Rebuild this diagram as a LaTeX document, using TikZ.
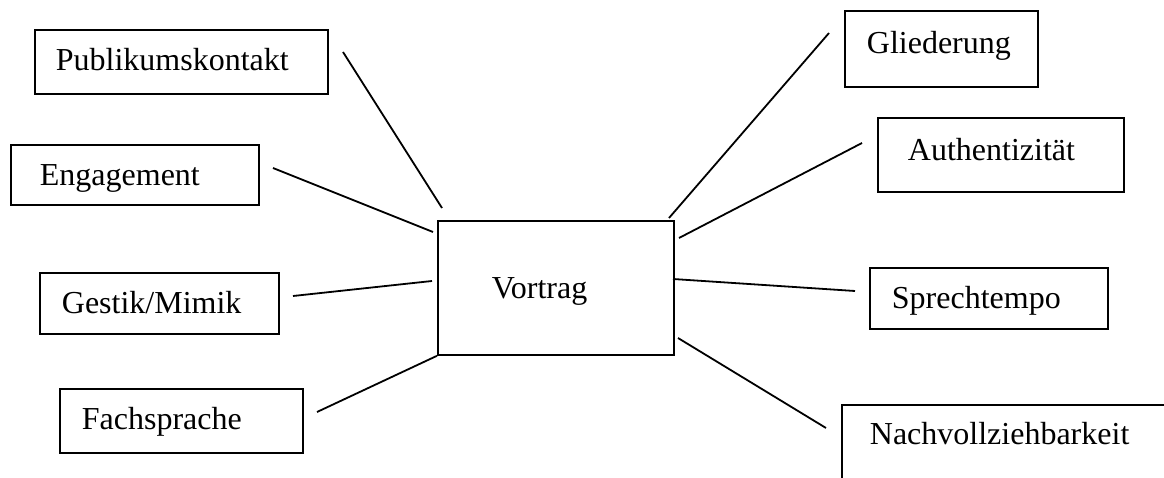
\documentclass[tikz,border=0pt]{standalone}
\usepackage{fontspec}
\setmainfont{Liberation Serif}
\usepackage{tikz}
\usetikzlibrary{positioning}

\begin{document}
\begin{tikzpicture}[x=1pt, y=-1pt]
		
		\tikzset{%
			feld/.style     = {draw, line width=1.8pt, rectangle, align=left, inner ysep=0pt,
				anchor=north west, font=\fontsize{32}{38}\selectfont}, % Kasten
			linie/.style    = {line width=1.8pt} % Verbindung
		}
		
		\useasboundingbox (0,0) rectangle (1164,478);
		\clip (0,0) rectangle (1164,478);
	
		\node[feld, inner xsep=54pt, text width=128pt, text height=78pt, text depth=56pt] (vortrag) at (437,220) {Vortrag};	% Mitte
		
		% linke Seite
		\node[feld, inner xsep=21pt, text width=251pt, text height=41pt, text depth=23pt] (publikum) at (34,29) {Publikumskontakt};
		\node[feld, inner xsep=29pt, text width=190pt, text height=41pt, text depth=19pt] (engagement) at (10,144) {Engagement};
		\node[feld, inner xsep=22pt, text width=195pt, text height=41pt, text depth=20pt] (gestik) at (39,272) {Gestik/Mimik};
		\node[feld, inner xsep=22pt, text width=199pt, text height=41pt, text depth=23pt] (fach) at (59,388) {Fachsprache};
		
		% rechte Seite
		\node[feld, inner xsep=22pt, text width=149pt, text height=43pt, text depth=33pt] (gliederung) at (844,10) {Gliederung};
		\node[feld, inner xsep=30pt, text width=186pt, text height=43pt, text depth=31pt] (authen) at (877,117) {Authentizität};
		\node[feld, inner xsep=22pt, text width=194pt, text height=41pt, text depth=20pt] (tempo) at (869,267) {Sprechtempo};
		\node[feld, inner xsep=28pt, text width=293pt, text height=40pt, text depth=56pt] (nachvoll) at (841,404) {Nachvollziehbarkeit};
		
		% Enden der Linien
		\coordinate (publikumEnde) at (343,52);
		\coordinate (publikumMitte) at (442,208);
		\coordinate (engagementEnde) at (273,168);
		\coordinate (engagementMitte) at (433,232);
		\coordinate (gestikEnde) at (293,296);
		\coordinate (gestikMitte) at (432,281);
		\coordinate (fachEnde) at (317,412);
		\coordinate (gliederungEnde) at (829,33);
		\coordinate (gliederungMitte) at (669,218);
		\coordinate (authenEnde) at (862,143);
		\coordinate (authenMitte) at (679,238);
		\coordinate (tempoEnde) at (855,291);
		\coordinate (tempoMitte) at (673,279);
		\coordinate (nachvollEnde) at (826,428);
		\coordinate (nachvollMitte) at (678,338);
		
		% Linien
		\draw[linie] (publikumEnde) -- (publikumMitte);
		\draw[linie] (engagementEnde) -- (engagementMitte);
		\draw[linie] (gestikEnde) -- (gestikMitte);
		\draw[linie] (fachEnde) -- (vortrag.south west);
		\draw[linie] (gliederungEnde) -- (gliederungMitte);
		\draw[linie] (authenEnde) -- (authenMitte);
		\draw[linie] (tempoEnde) -- (tempoMitte);
		\draw[linie] (nachvollEnde) -- (nachvollMitte);
		
		\end{tikzpicture}
\end{document}
